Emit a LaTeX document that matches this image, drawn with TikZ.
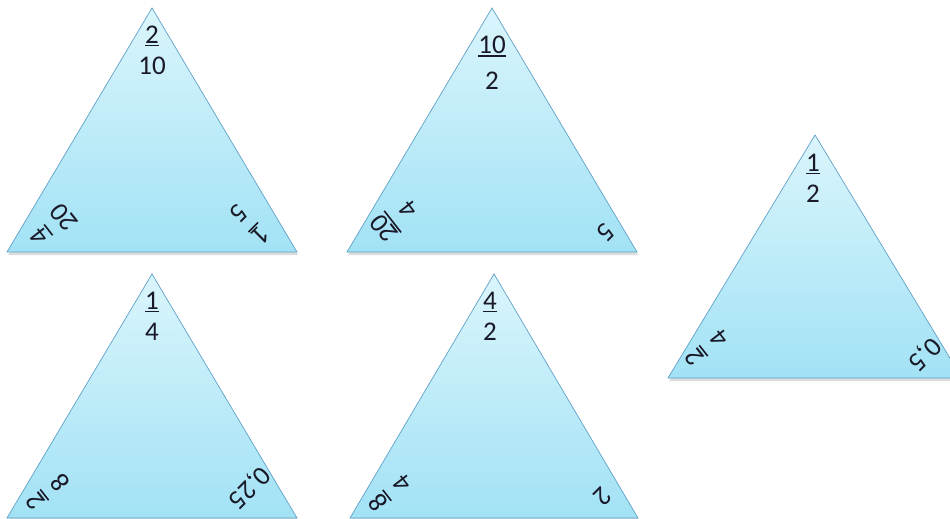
\documentclass[tikz,border=0pt]{standalone}
\usepackage{fontspec}
\setmainfont{Carlito}
\definecolor{tritop}{RGB}{218,245,252}
\definecolor{tribot}{RGB}{162,226,245}
\definecolor{triedge}{RGB}{95,160,200}
\definecolor{ink}{RGB}{25,25,40}
\newcommand\myul[1]{\vtop{\hbox{#1}\kern1.5pt\hrule height 1.6pt}}
\newcommand\myfr[2]{\myul{#1}\\#2}
\tikzset{
  tri/.style={draw=triedge, line width=0.7pt, top color=tritop, bottom color=tribot},
  trishadow/.style={fill=black!30, opacity=0.45},
  lab/.style={font=\fontsize{27}{31}\selectfont, text=ink, align=center, inner sep=0pt},
  labl/.style={lab, rotate=128},
  labr/.style={lab, rotate=-135},
}
\begin{document}
\begin{tikzpicture}[x=1pt,y=-1pt]
\useasboundingbox (0,0) rectangle (950,519);
\begin{scope}
\clip (0,0) rectangle (950,519);
% triangle corners
\coordinate (a1) at (7,252);   \coordinate (b1) at (297,252); \coordinate (c1) at (152,8);
\coordinate (a2) at (347,252); \coordinate (b2) at (637,252); \coordinate (c2) at (492,8);
\coordinate (a3) at (668,378); \coordinate (b3) at (962,378); \coordinate (c3) at (815,135);
\coordinate (a4) at (7,518);   \coordinate (b4) at (297,518); \coordinate (c4) at (152,274);
\coordinate (a5) at (350,518); \coordinate (b5) at (638,518); \coordinate (c5) at (494,274);
\foreach \i in {1,...,5}{
  \fill[trishadow] ([shift={(1,3)}]a\i) -- ([shift={(1,3)}]b\i) -- ([shift={(1,3)}]c\i) -- cycle;
  \draw[tri] (a\i) -- (b\i) -- (c\i) -- cycle;
}
\end{scope}
% triangle 1
\node[lab] (t1) at (152,50) {\myfr{2}{10}};
\node[labl] (l1) at (52,227) {\myfr{4}{20}};
\node[labr] (r1) at (250,224) {\myfr{1}{5}};
% triangle 2
\node[lab] (t2) at (492,63) {\myul{10}\\[5pt]2};
\node[labl] (l2) at (396,219) {\myfr{20}{4}};
\node[labr] (r2) at (606,232) {5};
% triangle 3
\node[lab] (t3) at (813,178) {\myfr{1}{2}};
\node[labl] (l3) at (707,348) {\myfr{2}{4}};
\node[labr] (r3) at (924,354) {0,5};
% triangle 4
\node[lab] (t4) at (152,316) {\myfr{1}{4}};
\node[labl] (l4) at (48,492) {\myfr{2}{8}};
\node[labr] (r4) at (249,487) {0,25};
% triangle 5
\node[lab] (t5) at (490,316) {\myfr{4}{2}};
\node[labl] (l5) at (390,493) {\myfr{8}{4}};
\node[labr] (r5) at (603,497) {2};
\end{tikzpicture}
\end{document}
